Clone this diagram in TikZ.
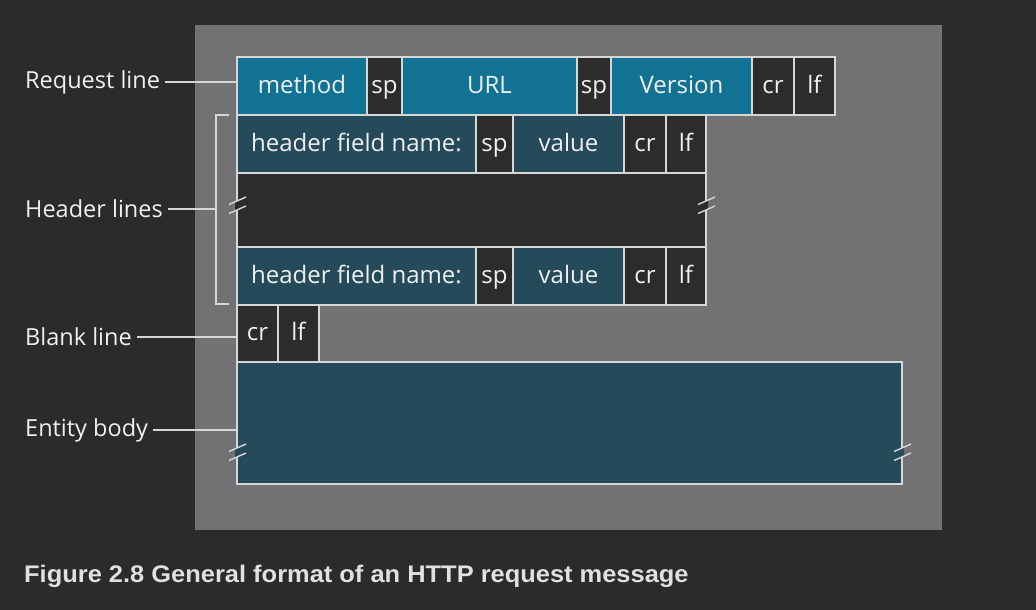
\documentclass[tikz,border=0pt]{standalone}
\usepackage{fontspec}
\setmainfont{Open Sans}
\newfontfamily\captionfont[FakeStretch=1.06]{Liberation Sans}
\usetikzlibrary{positioning}
\definecolor{bgdark}{RGB}{43,43,43}
\definecolor{panelgray}{RGB}{114,114,116}
\definecolor{reqblue}{RGB}{18,114,148}
\definecolor{hdrteal}{RGB}{37,74,90}
\definecolor{celldark}{RGB}{44,44,44}
\definecolor{edgegray}{RGB}{214,214,214}
\definecolor{txtwhite}{RGB}{240,240,240}

\tikzset{
  cell/.style={draw=edgegray, line width=1.6pt, text=txtwhite, inner sep=0pt, outer sep=0pt,
    font=\fontsize{24}{26}\selectfont, text height=18pt, text depth=4pt, minimum height=58},
  reqcell/.style={cell, fill=reqblue},
  hdrcell/.style={cell, fill=hdrteal},
  ctlcell/.style={cell, fill=celldark},
  lbl/.style={text=txtwhite, font=\fontsize{23.5}{26}\selectfont, inner sep=0pt, anchor=west},
  lead/.style={edgegray, line width=1.4pt},
  brk/.style={edgegray, line width=1.4pt}
}

\begin{document}
\begin{tikzpicture}[x=1pt, y=-1pt]
\useasboundingbox (0,0) rectangle (1036,610);
% Background and panel
\fill[bgdark] (0,0) rectangle (1036,610);
\fill[panelgray] (195,25) rectangle (942,530);
% Request line
\node[reqcell, anchor=north west, minimum width=130] (method) at (237,57) {method};
\node[ctlcell, minimum width=35, right=0pt of method] (sp1) {sp};
\node[reqcell, minimum width=175, right=0pt of sp1] (url) {URL};
\node[ctlcell, minimum width=34, right=0pt of url] (sp2) {sp};
\node[reqcell, minimum width=141, right=0pt of sp2] (version) {Version};
\node[ctlcell, minimum width=42, right=0pt of version] (cr0) {cr};
\node[ctlcell, minimum width=41, right=0pt of cr0] (lf0) {lf};
% First header line
\node[hdrcell, anchor=north west, minimum width=239] (name1) at (237,115) {header field name:};
\node[ctlcell, minimum width=37, right=0pt of name1] (sp3) {sp};
\node[hdrcell, minimum width=111, right=0pt of sp3] (value1) {value};
\node[ctlcell, minimum width=42, right=0pt of value1] (cr1) {cr};
\node[ctlcell, minimum width=40, right=0pt of cr1] (lf1) {lf};
% Further header lines
\node[ctlcell, anchor=north west, minimum width=469, minimum height=74] (band) at (237,173) {};
% Last header line
\node[hdrcell, anchor=north west, minimum width=239] (name2) at (237,247) {header field name:};
\node[ctlcell, minimum width=37, right=0pt of name2] (sp4) {sp};
\node[hdrcell, minimum width=111, right=0pt of sp4] (value2) {value};
\node[ctlcell, minimum width=42, right=0pt of value2] (cr2) {cr};
\node[ctlcell, minimum width=40, right=0pt of cr2] (lf2) {lf};
% Blank line
\node[ctlcell, anchor=north west, minimum width=41, minimum height=57] (cr3) at (237,305) {cr};
\node[ctlcell, minimum width=41, minimum height=57, right=0pt of cr3] (lf3) {lf};
% Entity body
\node[hdrcell, anchor=north west, minimum width=665, minimum height=122] (body) at (237,362) {};
% Break marks
\foreach \bx/\by/\bc in {237/205/celldark, 706/205/celldark, 237/452/hdrteal, 902/452/hdrteal} {
  \fill[\bc] (\bx-2,\by-3.1) -- (\bx+2,\by-4.9) -- (\bx+2,\by+4.1) -- (\bx-2,\by+5.9) -- cycle;
  \draw[brk] (\bx-8,\by-0.5) -- (\bx+9,\by-8);
  \draw[brk] (\bx-8,\by+8.5) -- (\bx+9,\by+1);
}
% Labels
\node[lbl] (reqlbl) at (25,82) {Request line};
\node[lbl] (hdrlbl) at (25,209) {Header lines};
\node[lbl] (blanklbl) at (25,337) {Blank line};
\node[lbl] (bodylbl) at (25,430) {Entity body};
\coordinate (brtop) at (229,115);
\coordinate (brbot) at (229,304);
\coordinate (brmid) at (216,209);
\draw[lead] (brtop) -- (216,115) -- (216,304) -- (brbot);
\draw[lead] ([xshift=5pt]reqlbl.east) -- (reqlbl.east -| method.west);
\draw[lead] ([xshift=5pt]hdrlbl.east) -- (brmid);
\draw[lead] ([xshift=5pt]blanklbl.east) -- (blanklbl.east -| cr3.west);
\draw[lead] ([xshift=5pt]bodylbl.east) -- (bodylbl.east -| body.west);
% Caption
\node[anchor=base west, inner sep=0pt, text={rgb,255:red,224;green,224;blue,224},
  font=\captionfont\bfseries\fontsize{24}{27}\selectfont] (caption) at (24,582)
  {Figure 2.8 General format of an HTTP request message};
\end{tikzpicture}
\end{document}
